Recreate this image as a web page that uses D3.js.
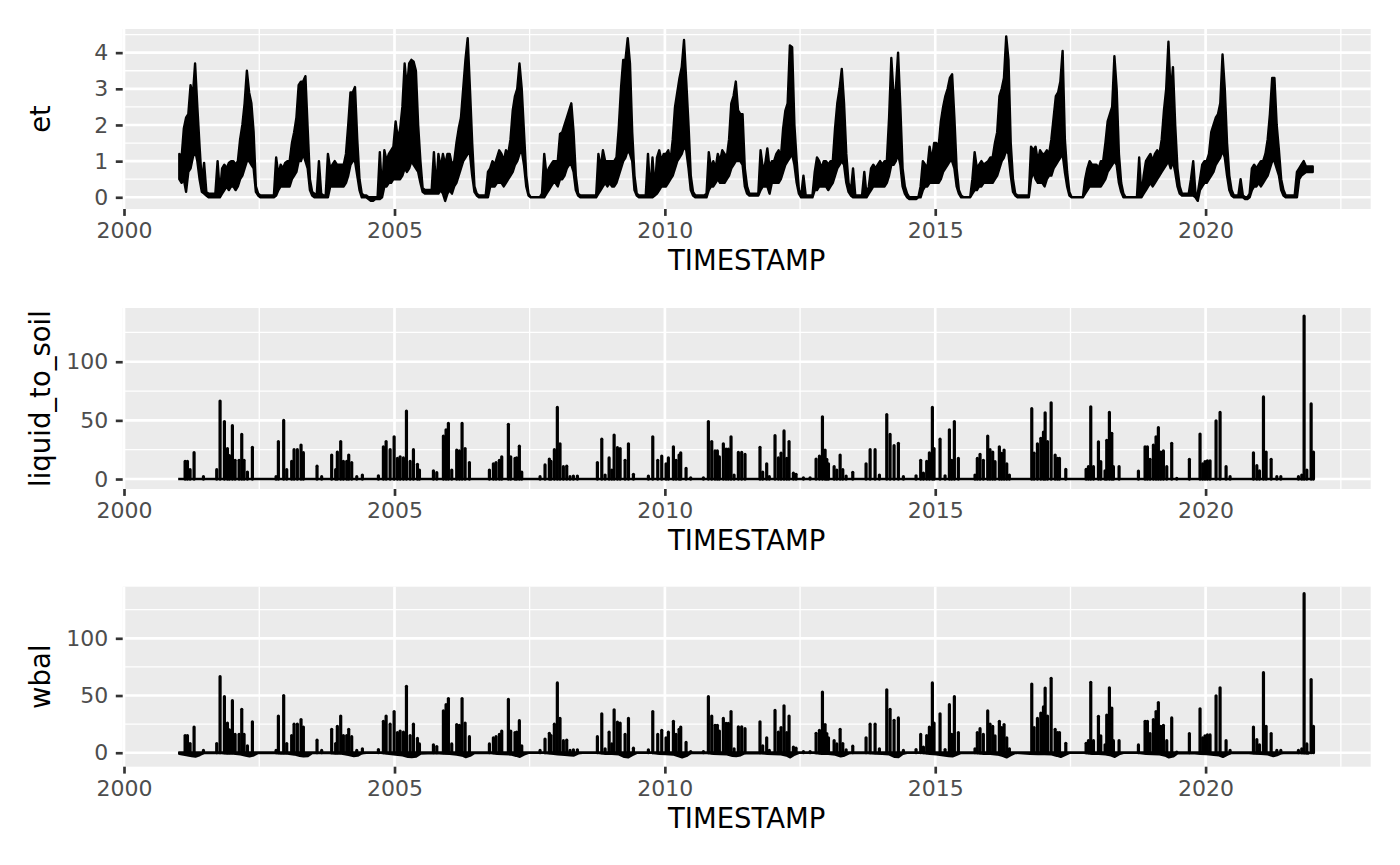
<!DOCTYPE html>
<html>
<head>
<meta charset="utf-8">
<script src="https://cdn.jsdelivr.net/npm/d3@7"></script>
<style>
  body { margin: 0; background: #fff; }
  text { font-family: "DejaVu Sans", sans-serif; }
</style>
</head>
<body>
<div id="chart"></div>
<script>
// ----------------------------------------------------------------
// Data
// ----------------------------------------------------------------
// et: for every year, 24 half-month readings of the daily band (upper / lower edge)
var etYears = [2001, 2002, 2003, 2004, 2005, 2006, 2007, 2008, 2009, 2010, 2011,
               2012, 2013, 2014, 2015, 2016, 2017, 2018, 2019, 2020, 2021];

var etHigh = [
  [1.2,1.1,1.9,2.2,2.3,3.1,2.8,3.7,2.5,1.4,0.4,0.95,0.15,0.1,0.1,0.1,0.1,1.0,0.1,0.8,0.9,0.8,0.95,1.0],
  [1.0,0.9,1.0,1.6,2.0,2.6,3.5,2.9,2.6,1.8,0.3,0.1,0.05,0.05,0.05,0.05,0.05,0.05,0.05,1.1,0.6,0.9,0.8,0.95],
  [1.0,1.0,1.5,1.8,2.2,3.1,3.2,3.2,3.35,1.9,0.5,0.15,0.1,0.05,1.0,0.1,0.05,0.05,1.2,0.8,0.9,1.0,0.9,0.9],
  [0.9,0.9,1.2,2.0,2.9,2.9,3.05,1.6,0.5,0.1,0.05,0.05,0.0,0.0,0.0,0.0,0.0,1.25,0.1,1.3,1.0,1.2,1.3,1.4],
  [2.1,1.6,1.9,2.5,3.7,3.0,3.7,3.8,3.75,3.5,2.0,1.0,0.25,0.2,0.2,0.2,0.2,1.25,0.2,1.2,0.8,1.2,0.9,1.2],
  [1.2,0.9,1.0,1.5,1.9,2.2,3.0,3.8,4.4,3.0,1.5,0.3,0.1,0.05,0.05,0.05,0.05,0.7,0.8,1.0,0.9,1.1,1.3,1.2],
  [1.0,1.3,1.2,1.6,2.4,2.8,3.0,3.7,3.0,1.8,0.6,0.1,0.0,0.0,0.0,0.0,0.0,0.1,1.2,0.6,0.8,0.9,1.0,1.0],
  [1.0,1.75,1.8,2.0,2.2,2.4,2.6,1.8,0.6,0.1,0.05,0.05,0.05,0.05,0.05,0.05,0.05,0.05,1.2,0.8,1.3,1.0,1.0,1.0],
  [1.0,1.0,1.1,1.9,3.0,3.8,3.8,4.4,3.7,1.8,0.6,0.1,0.05,0.05,0.05,0.05,1.2,0.1,1.1,0.2,1.1,1.3,1.0,1.2],
  [1.2,1.3,1.0,1.6,2.5,2.9,3.3,3.6,4.35,3.2,2.0,0.6,0.15,0.05,0.05,0.05,0.05,0.05,0.1,1.25,0.8,1.0,0.8,1.2],
  [1.0,1.3,1.2,1.1,1.6,2.6,2.8,3.2,2.4,2.3,2.3,0.8,0.3,0.1,0.1,0.1,0.1,0.1,1.3,0.8,0.9,1.35,0.8,1.0],
  [1.0,1.2,1.3,1.1,1.9,2.4,2.6,4.2,4.15,2.0,1.0,0.2,0.05,0.6,0.05,0.05,0.05,0.05,0.7,1.1,1.0,0.8,1.0,1.0],
  [0.9,1.0,1.0,1.9,2.6,3.0,3.55,2.6,1.2,0.4,0.15,0.8,0.05,0.05,0.05,0.05,0.7,0.05,0.3,0.8,0.9,0.8,0.9,1.0],
  [0.9,1.0,1.0,2.2,3.85,2.8,3.0,4.0,2.5,0.8,0.3,0.1,0.0,0.0,0.0,0.0,0.0,0.3,1.0,0.9,0.8,1.4,1.0,1.5],
  [1.5,1.4,2.1,2.5,2.8,3.0,3.3,3.4,2.2,0.8,0.2,0.05,0.0,0.0,0.0,0.0,0.5,1.25,0.8,0.9,1.0,0.9,0.95,1.0],
  [1.1,1.1,1.5,1.8,2.8,3.0,3.3,4.45,3.8,1.5,0.5,0.1,0.05,0.05,0.05,0.05,0.05,0.05,1.4,1.3,1.4,1.0,1.3,1.2],
  [1.2,1.3,1.2,1.6,2.2,2.8,2.9,3.2,4.05,1.6,0.7,0.15,0.0,0.0,0.0,0.0,0.0,0.0,0.5,0.8,1.0,0.9,0.9,0.9],
  [0.8,1.0,1.0,1.5,2.1,2.3,2.5,3.9,3.0,1.2,0.4,0.1,0.0,0.0,0.0,0.0,0.0,0.0,1.1,0.0,0.6,1.0,1.1,1.2],
  [1.0,1.2,1.3,1.2,1.6,2.4,3.0,4.3,2.8,3.6,2.0,0.8,0.3,0.1,0.1,0.1,0.1,0.5,1.0,0.1,0.1,0.5,0.9,1.0],
  [1.0,1.2,1.8,2.0,2.2,2.3,2.6,3.95,3.0,1.5,0.6,0.2,0.05,0.05,0.05,0.5,0.05,0.0,0.0,0.1,0.8,0.9,0.8,0.9],
  [1.0,1.0,1.2,1.6,2.3,3.3,3.3,2.0,1.3,0.5,0.2,0.05,0.05,0.05,0.05,0.05,0.7,0.8,0.9,1.0,0.85,0.85,0.85,0.85]
];

var etLow = [
  [0.5,0.4,0.5,0.15,0.7,0.8,1.1,1.3,1.0,0.5,0.15,0.1,0.05,0,0,0,0,0,0,0.1,0.2,0.3,0.2,0.3],
  [0.3,0.2,0.3,0.5,0.6,0.8,1.0,1.0,0.9,0.8,0.15,0.05,0,0,0,0,0,0,0,0.05,0.2,0.3,0.3,0.3],
  [0.3,0.3,0.5,0.6,0.7,1.0,1.0,1.2,1.0,0.8,0.2,0.05,0,0,0,0,0,0,0,0.3,0.3,0.3,0.3,0.3],
  [0.3,0.3,0.4,0.6,0.9,1.0,1.0,0.6,0.2,0,0,0,-0.05,-0.1,-0.1,-0.05,-0.05,-0.05,0,0.3,0.3,0.4,0.4,0.5],
  [0.5,0.5,0.5,0.6,0.8,0.7,0.8,1.0,0.9,0.8,0.7,0.4,0.15,0.1,0.1,0.1,0.1,0.1,0.1,0.1,0.2,0.1,-0.1,0.1],
  [0.2,0.1,0.3,0.4,0.6,0.8,1.0,1.1,1.2,1.2,0.6,0.15,0.05,0,0,0,0,0,0.3,0.3,0.3,0.4,0.4,0.4],
  [0.3,0.4,0.5,0.6,0.7,0.9,1.0,1.2,1.3,0.9,0.3,0.05,0,0,0,0,0,0,0,0.1,0.2,0.3,0.4,0.4],
  [0.3,0.5,0.5,0.6,0.8,0.9,0.9,0.7,0.2,0.05,0,0,0,0,0,0,0,0,0.1,0.2,0.3,0.4,0.3,0.4],
  [0.3,0.3,0.4,0.6,0.8,1.0,1.1,1.3,1.2,1.0,0.2,0.05,0,0,0,0,0,0,0,0.05,0.1,0.2,0.3,0.3],
  [0.3,0.4,0.5,0.6,0.8,1.0,1.1,1.2,1.4,1.3,0.8,0.2,0.05,0,0,0,0,0,0,0.2,0.3,0.3,0.4,0.5],
  [0.4,0.4,0.4,0.5,0.6,0.8,0.9,1.0,1.0,1.0,0.9,0.3,0.1,0.05,0.05,0.05,0.05,0.05,0.2,0.3,0.3,0.3,0.1,0.4],
  [0.4,0.4,0.4,0.5,0.7,0.9,1.0,1.1,1.2,0.9,0.4,0.1,0,0,0,0,0,0,0.2,0.2,0.3,0.3,0.3,0.3],
  [0.2,0.3,0.4,0.6,0.8,0.9,1.0,0.9,0.4,0.15,0.05,0,0,0,0,0,0,0,0.1,0.2,0.3,0.3,0.3,0.3],
  [0.3,0.3,0.4,0.6,0.9,0.9,1.0,1.2,0.9,0.3,0.1,0.0,-0.05,-0.05,-0.05,-0.05,0,0,0.2,0.3,0.3,0.4,0.4,0.4],
  [0.4,0.4,0.5,0.7,0.8,0.9,1.0,1.0,0.8,0.3,0.1,0,0,0,0,0,0.1,0.2,0.2,0.3,0.3,0.4,0.4,0.4],
  [0.4,0.4,0.5,0.6,0.8,1.0,1.1,1.3,1.2,0.6,0.15,0.05,0,0,0,0,0,0,0.5,0.7,0.5,0.4,0.4,0.4],
  [0.3,0.5,0.6,0.6,0.8,0.9,1.0,1.1,1.2,0.7,0.3,0.05,0,0,0,0,0,0,0.1,0.2,0.3,0.3,0.3,0.3],
  [0.3,0.3,0.4,0.5,0.7,0.8,0.9,1.0,0.9,0.4,0.15,0,0,0,0,0,0,0,0,0,0.1,0.2,0.3,0.4],
  [0.3,0.4,0.5,0.6,0.7,0.8,0.9,1.0,0.8,1.0,0.7,0.3,0.1,0.05,0.05,0.05,0.05,0.05,0.05,0.0,-0.1,0.2,0.3,0.4],
  [0.4,0.5,0.6,0.7,0.9,1.0,1.1,1.3,1.1,0.6,0.2,0.05,0,0,0,0,0,-0.05,-0.05,0,0.2,0.3,0.3,0.4],
  [0.3,0.4,0.5,0.6,0.8,1.0,1.0,0.8,0.6,0.2,0.05,0,0,0,0,0,0.0,0.5,0.6,0.65,0.7,0.7,0.7,0.7]
];

// liquid_to_soil: daily peaks [decimal year, value]
var liquidPeaks = [
  [2001.128,15],[2001.171,15],[2001.22,8],[2001.294,22.5],[2001.467,2],
  [2001.713,8],[2001.775,66.5],[2001.855,49],[2001.911,26],[2001.948,20],[2002.003,45.5],[2002.053,16],
  [2002.127,16],[2002.176,38],[2002.219,16],[2002.281,6],[2002.373,27],
  [2002.811,2],[2002.854,32],[2002.952,50],[2003.008,8],[2003.1,15],[2003.144,25],[2003.205,25],
  [2003.273,29],[2003.316,22.5],
  [2003.569,11],[2003.655,2],[2003.84,20.5],[2003.914,8],[2003.945,23],[2004.007,32],[2004.056,15],
  [2004.118,15],[2004.155,20.5],[2004.21,14],[2004.303,2],[2004.407,3.4],
  [2004.703,2.8],[2004.795,27.5],[2004.845,32],[2004.919,25],[2004.993,36],[2005.054,17.6],[2005.104,19],
  [2005.165,18],[2005.221,58],[2005.289,15],[2005.35,25],[2005.424,12.5],[2005.461,7.7],
  [2005.72,7],[2005.782,5.4],[2005.905,36.6],[2005.954,42],[2005.997,47.4],[2006.059,7.7],[2006.151,24.7],
  [2006.201,24],[2006.25,47.4],[2006.306,26],[2006.386,14],
  [2006.756,7.7],[2006.83,13],[2006.879,14],[2006.941,16],[2006.984,19],[2007.107,46.6],[2007.15,19],
  [2007.23,17.6],[2007.261,18],[2007.31,28],[2007.354,6],
  [2007.693,2],[2007.785,12],[2007.865,17],[2007.896,15],[2007.958,25],[2008.013,61],[2008.062,30],
  [2008.124,10.5],[2008.186,11],[2008.247,2],[2008.309,2.6],[2008.383,2.6],
  [2008.752,14],[2008.833,34],[2008.894,3.4],[2008.968,18],[2009.017,7.7],[2009.061,37.5],[2009.122,26.7],
  [2009.172,26],[2009.264,16],[2009.326,30],[2009.418,4],
  [2009.695,2.6],[2009.776,36],[2009.868,16],[2009.942,19.6],[2010.022,13],[2010.065,18],[2010.158,27.5],
  [2010.207,16],[2010.263,20.5],[2010.293,22.4],[2010.392,9],[2010.478,1.1],
  [2010.713,1],[2010.805,49],[2010.867,32],[2010.928,24],[2010.971,24],[2011.008,19],[2011.082,30],
  [2011.132,25.6],[2011.175,25.6],[2011.224,36],[2011.28,3.4],[2011.36,22.7],[2011.421,22.7],[2011.483,21],
  [2011.76,27],[2011.81,6],[2011.884,13],[2011.933,2],[2012.038,37],[2012.1,18],[2012.149,22],
  [2012.204,41],[2012.254,17.6],[2012.297,32],[2012.377,5],[2012.426,4],[2012.562,1],[2012.685,1],
  [2012.796,17],[2012.858,19.6],[2012.913,53],[2012.962,24.7],[2012.993,16.8],[2013.024,13],[2013.129,10.5],
  [2013.178,7.7],[2013.24,20.5],[2013.289,8],[2013.351,2.6],[2013.474,5.7],
  [2013.72,13],[2013.795,25],[2013.887,25],[2013.967,3.4],[2014.103,55],[2014.164,38],[2014.238,28.4],
  [2014.318,30.4],[2014.411,2],
  [2014.645,2.8],[2014.731,16],[2014.781,5],[2014.842,15],[2014.892,22.4],[2014.947,61],[2014.978,26],
  [2015.089,34],[2015.182,2.8],[2015.262,42],[2015.305,16],[2015.354,49],[2015.428,17.6],
  [2015.736,3.4],[2015.779,17.6],[2015.829,21],[2015.89,16],[2015.971,36.6],[2016.014,25],[2016.063,23],
  [2016.106,14.8],[2016.186,27.5],[2016.229,21.9],[2016.273,24.7],[2016.322,13],[2016.371,3.4],
  [2016.784,60],[2016.827,22],[2016.889,30],[2016.951,34.7],[2017.0,40],[2017.031,56.5],[2017.074,32],
  [2017.142,65],[2017.216,20.5],[2017.259,17.6],[2017.296,17.6],[2017.413,8.2],
  [2017.789,8.2],[2017.832,10.5],[2017.875,61.6],[2017.925,10.5],[2018.017,31.8],[2018.06,14.8],[2018.14,7],
  [2018.171,33],[2018.22,56.8],[2018.264,39],[2018.294,10.5],[2018.399,10.5],
  [2018.757,6.8],[2018.88,27.5],[2018.923,27.5],[2018.972,16.8],[2019.034,29],[2019.083,36],[2019.126,43.8],
  [2019.17,23],[2019.219,24],[2019.281,10.5],[2019.373,30.4],[2019.466,0.6],
  [2019.7,16.8],[2019.897,38.4],[2019.946,13],[2019.989,14.8],[2020.033,15.6],[2020.082,15.6],[2020.193,49.7],
  [2020.267,56.8],[2020.378,10.5],[2020.452,2],
  [2020.883,22.4],[2020.945,11.4],[2020.994,7],[2021.068,70],[2021.117,23],[2021.21,16.8],[2021.315,2],
  [2021.389,2],
  [2021.715,2],[2021.777,3.4],[2021.82,139],[2021.87,7.7],[2021.95,64],[2021.993,23]
];

// wbal: same rain peaks, plus the dry-day dip below zero (read at fixed points of each year)
var wbalPeaks = liquidPeaks;
var wbalFrac = [0.02, 0.15, 0.25, 0.32, 0.4, 0.48, 0.75, 0.9];
var wbalLow = [
  [-1.0,-2.0,-3.0,-3.4,-2.0,-0.2,-0.1,-0.8],
  [-0.8,-1.4,-2.4,-3.2,-2.2,-0.2,-0.1,-0.8],
  [-0.8,-1.5,-2.6,-3.2,-2.8,-0.3,-0.1,-0.8],
  [-0.8,-1.8,-2.9,-2.5,-0.4,-0.1,-0.1,-1.0],
  [-1.5,-2.2,-3.6,-3.7,-3.3,-0.8,-0.3,-0.8],
  [-0.9,-1.5,-2.4,-3.8,-2.6,-0.2,-0.1,-0.9],
  [-1.1,-1.5,-2.6,-3.5,-1.5,-0.1,-0.1,-0.8],
  [-1.4,-1.9,-2.2,-2.4,-0.6,-0.1,-0.1,-0.9],
  [-0.9,-1.4,-3.6,-4.0,-2.0,-0.1,-0.1,-1.0],
  [-1.1,-1.5,-2.9,-4.0,-2.8,-0.2,-0.1,-0.9],
  [-1.1,-1.4,-2.6,-3.0,-2.2,-0.4,-0.2,-0.9],
  [-1.1,-1.3,-2.4,-4.0,-1.6,-0.1,-0.1,-0.9],
  [-0.9,-1.6,-3.2,-2.4,-0.5,-0.1,-0.2,-0.8],
  [-0.9,-1.4,-3.6,-3.8,-1.0,-0.1,-0.1,-1.0],
  [-1.3,-2.2,-2.9,-3.2,-1.6,-0.1,-0.3,-0.9],
  [-1.0,-1.5,-2.8,-4.0,-2.0,-0.1,-1.0,-1.1],
  [-1.2,-1.4,-2.6,-3.6,-1.8,-0.1,-0.1,-0.9],
  [-0.9,-1.3,-2.3,-3.6,-1.2,-0.1,-0.1,-1.0],
  [-1.1,-1.3,-2.4,-4.0,-3.2,-0.5,-0.2,-0.9],
  [-1.1,-1.8,-2.3,-3.6,-1.6,-0.2,-0.1,-0.8],
  [-0.9,-1.4,-3.0,-2.0,-0.4,-0.1,-0.2,-0.8]
];

var seriesSpan = [2001.0, 2022.0];

// axis breaks
var yearTicks = [2000, 2005, 2010, 2015, 2020];
var yearMinor = [2002.5, 2007.5, 2012.5, 2017.5, 2022.5];
var etTicks = [0, 1, 2, 3, 4];
var etMinor = [0.5, 1.5, 2.5, 3.5, 4.5];
var flowTicks = [0, 50, 100];
var flowMinor = [25, 75, 125];

// decimal year -> Date
function decDate(t) {
  var y = Math.floor(t);
  var a = new Date(y, 0, 1), b = new Date(y + 1, 0, 1);
  return new Date(+a + (t - y) * (b - a));
}

window.onload = () => {

  var W = 1400, H = 865;
  var left = 122.7, right = 1370.7;

  var svg = d3.select("#chart")
    .append("svg")
    .attr("width", W)
    .attr("height", H);

  svg.append("rect").attr("width", W).attr("height", H).attr("fill", "#fff");

  // shared time axis (2000 and 2020 sit at fixed pixel places in the reference)
  var x = d3.scaleTime()
    .domain([decDate(2000), decDate(2020)])
    .range([124, 1205.6]);

  var panels = [
    {name: "et",             top: 29,    bottom: 209,   domain: [-0.324, 4.654], ticks: etTicks,   minor: etMinor},
    {name: "liquid_to_soil", top: 308,   bottom: 489,   domain: [-8.5, 145.8],   ticks: flowTicks, minor: flowMinor},
    {name: "wbal",           top: 586.7, bottom: 766.7, domain: [-12.2, 145.1],  ticks: flowTicks, minor: flowMinor}
  ];

  panels.forEach(function(p, k) {
    p.y = d3.scaleLinear().domain(p.domain).range([p.bottom, p.top]);

    // ------------------------------------------------------------
    // Panel background + grid
    // ------------------------------------------------------------
    svg.append("rect")
      .attr("x", left).attr("y", p.top)
      .attr("width", right - left).attr("height", p.bottom - p.top)
      .attr("fill", "#EBEBEB");

    var grid = svg.append("g");
    grid.selectAll(".hmin").data(p.minor).enter().append("line")
      .attr("x1", left).attr("x2", right)
      .attr("y1", d => p.y(d)).attr("y2", d => p.y(d))
      .attr("stroke", "#fff").attr("stroke-width", 1.33);
    grid.selectAll(".vmin").data(yearMinor).enter().append("line")
      .attr("x1", d => x(decDate(d))).attr("x2", d => x(decDate(d)))
      .attr("y1", p.top).attr("y2", p.bottom)
      .attr("stroke", "#fff").attr("stroke-width", 1.33);
    grid.selectAll(".hmaj").data(p.ticks).enter().append("line")
      .attr("x1", left).attr("x2", right)
      .attr("y1", d => p.y(d)).attr("y2", d => p.y(d))
      .attr("stroke", "#fff").attr("stroke-width", 2.67);
    grid.selectAll(".vmaj").data(yearTicks).enter().append("line")
      .attr("x1", d => x(decDate(d))).attr("x2", d => x(decDate(d)))
      .attr("y1", p.top).attr("y2", p.bottom)
      .attr("stroke", "#fff").attr("stroke-width", 2.67);

    svg.append("clipPath").attr("id", "clip" + k)
      .append("rect")
      .attr("x", left).attr("y", p.top)
      .attr("width", right - left).attr("height", p.bottom - p.top);

    p.layer = svg.append("g").attr("clip-path", "url(#clip" + k + ")");

    // ------------------------------------------------------------
    // Axes
    // ------------------------------------------------------------
    var xAxis = svg.append("g")
      .attr("transform", "translate(0," + p.bottom + ")")
      .call(d3.axisBottom(x)
        .tickValues(yearTicks.map(decDate))
        .tickFormat(d3.timeFormat("%Y"))
        .tickSize(6.9).tickPadding(6.8));

    var yAxis = svg.append("g")
      .attr("transform", "translate(" + left + ",0)")
      .call(d3.axisLeft(p.y)
        .tickValues(p.ticks)
        .tickFormat(d3.format("d"))
        .tickSize(6.9).tickPadding(7.5));

    [xAxis, yAxis].forEach(function(a) {
      a.select(".domain").remove();
      a.selectAll(".tick line").attr("stroke", "#333333").attr("stroke-width", 2.67);
      a.selectAll(".tick text")
        .attr("fill", "#4D4D4D")
        .style("font-size", "22px")
        .style("font-family", "'DejaVu Sans', sans-serif");
    });

    svg.append("text")
      .attr("x", (left + right) / 2)
      .attr("y", p.bottom + 61)
      .attr("text-anchor", "middle")
      .style("font-size", "27.5px")
      .attr("fill", "#000")
      .text("TIMESTAMP");

    svg.append("text")
      .attr("transform", "translate(50," + ((p.top + p.bottom) / 2) + ") rotate(-90)")
      .attr("text-anchor", "middle")
      .style("font-size", "27.5px")
      .attr("fill", "#000")
      .text(p.name);
  });

  // ----------------------------------------------------------------
  // et: daily band drawn between its upper and lower edge
  // ----------------------------------------------------------------
  var etRows = [];
  etYears.forEach(function(yr, k) {
    etHigh[k].forEach(function(h, i) {
      etRows.push({date: decDate(yr + (i + 0.5) / 24), hi: h, lo: etLow[k][i]});
    });
  });

  var pEt = panels[0];
  pEt.layer.append("path")
    .datum(etRows)
    .attr("d", d3.area()
      .x(d => x(d.date))
      .y0(d => pEt.y(d.lo))
      .y1(d => pEt.y(d.hi)))
    .attr("fill", "#000")
    .attr("stroke", "#000")
    .attr("stroke-width", 2.4)
    .attr("stroke-linejoin", "round");

  // ----------------------------------------------------------------
  // liquid_to_soil and wbal: zero line + rain peaks
  // ----------------------------------------------------------------
  function drawPeaks(p, peaks) {
    p.layer.append("line")
      .attr("x1", x(decDate(seriesSpan[0]))).attr("x2", x(decDate(seriesSpan[1])))
      .attr("y1", p.y(0)).attr("y2", p.y(0))
      .attr("stroke", "#000").attr("stroke-width", 2.67);

    p.layer.append("g")
      .selectAll("line")
      .data(peaks)
      .enter()
      .append("line")
      .attr("x1", d => x(decDate(d[0])))
      .attr("x2", d => x(decDate(d[0])))
      .attr("y1", p.y(0))
      .attr("y2", d => p.y(d[1]))
      .attr("stroke", "#000")
      .attr("stroke-width", 3.2)
      .attr("stroke-linecap", "round");
  }

  drawPeaks(panels[1], liquidPeaks);

  var pW = panels[2];
  var wbalRows = [];
  etYears.forEach(function(yr, k) {
    wbalLow[k].forEach(function(v, i) {
      wbalRows.push({date: decDate(yr + wbalFrac[i]), v: v});
    });
  });
  pW.layer.append("path")
    .datum(wbalRows)
    .attr("d", d3.area()
      .x(d => x(d.date))
      .y0(pW.y(0))
      .y1(d => pW.y(d.v)))
    .attr("fill", "#000")
    .attr("stroke", "#000")
    .attr("stroke-width", 2.4)
    .attr("stroke-linejoin", "round");

  drawPeaks(pW, wbalPeaks);
};
</script>
</body>
</html>
